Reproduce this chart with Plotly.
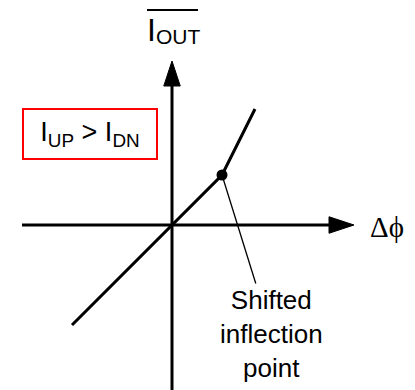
import plotly.graph_objects as go

# transfer curve: phase error vs. average output current
phase = [-2.0, 0.0, 1.0, 1.66]
iout = [-2.0, 0.0, 1.0, 2.32]

# shifted inflection point
kink_x = [1.0]
kink_y = [1.0]

x_label = "Δϕ"
y_label = "I<span style='font-size:21px;baseline-shift:-3px'>OUT</span>"
box_label = "I<sub>UP</sub> > I<sub>DN</sub>"
note_label = "Shifted<br>inflection<br>point"

SANS = "Liberation Sans, Arial, sans-serif"
SERIF = "Liberation Serif, DejaVu Serif, Times New Roman, serif"

# axis geometry (data units, 50 px per unit)
x_start, x_tip = -3.0, 3.64
y_start, y_tip = -3.6, 3.28
head_len, head_half = 0.5, 0.165

fig = go.Figure()

fig.add_trace(go.Scatter(x=phase, y=iout, mode='lines',
                         line=dict(color='black', width=3),
                         hoverinfo='skip', showlegend=False))
fig.add_trace(go.Scatter(x=kink_x, y=kink_y, mode='markers',
                         marker=dict(color='black', size=11),
                         hoverinfo='skip', showlegend=False))

# axes with filled arrowheads
fig.add_shape(type='line', x0=x_start, y0=0, x1=x_tip - head_len + 0.05, y1=0,
              line=dict(color='black', width=3))
fig.add_shape(type='line', x0=0, y0=y_start, x1=0, y1=y_tip - head_len + 0.05,
              line=dict(color='black', width=3))
fig.add_shape(type='path',
              path=f"M {x_tip - head_len},{-head_half} L {x_tip},0 L {x_tip - head_len},{head_half} Z",
              fillcolor='black', line=dict(color='black', width=1))
fig.add_shape(type='path',
              path=f"M {-head_half},{y_tip - head_len} L 0,{y_tip} L {head_half},{y_tip - head_len} Z",
              fillcolor='black', line=dict(color='black', width=1))

# overline on the y label
fig.add_shape(type='line', x0=-0.5, y0=4.3, x1=0.52, y1=4.3,
              line=dict(color='black', width=2))

fig.add_annotation(x=0.02, y=4.3, text=y_label, showarrow=False,
                   xanchor='center', yanchor='top',
                   font=dict(family=SANS, size=32, color='black'))
fig.add_annotation(x=3.92, y=-0.03, text=x_label, showarrow=False,
                   xanchor='left', yanchor='middle',
                   font=dict(family=SERIF, size=29, color='black'))
fig.add_annotation(x=-1.65, y=1.824, text=box_label, showarrow=False,
                   width=132, height=48, borderpad=0, borderwidth=2,
                   bordercolor='red', align='center', valign='middle',
                   font=dict(family=SANS, size=27, color='black'))
fig.add_annotation(x=kink_x[0], y=kink_y[0], text=note_label,
                   showarrow=True, arrowhead=0, arrowwidth=1.3, arrowcolor='black',
                   axref='x', ayref='y', ax=1.99, ay=-2.18, standoff=0,
                   font=dict(family=SANS, size=26, color='black'))

# page body adds an 8 px offset, so ranges are shifted to keep the layout in place
fig.update_xaxes(visible=False, range=[-3.28, 5.02])
fig.update_yaxes(visible=False, range=[-3.46, 4.34])
fig.update_layout(width=415, height=390, margin=dict(l=0, r=0, t=0, b=0),
                  plot_bgcolor='white', paper_bgcolor='white', showlegend=False)

fig.write_html("out.html")
